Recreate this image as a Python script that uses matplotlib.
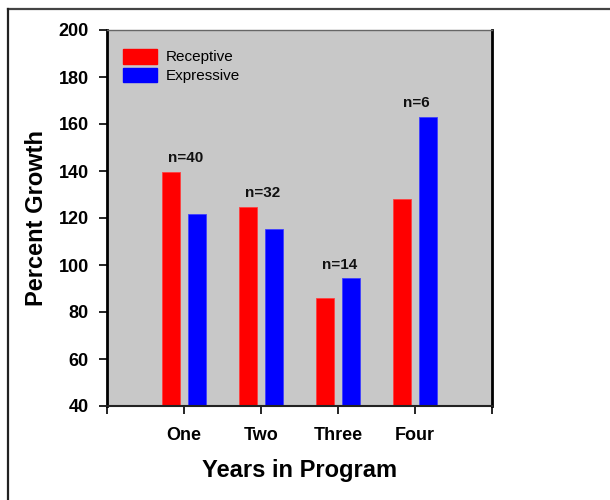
import matplotlib
matplotlib.use("Agg")
import matplotlib.pyplot as plt
from matplotlib.lines import Line2D
from matplotlib.patches import Patch

# Percent growth by years in program
categories = ["One", "Two", "Three", "Four"]
receptive = [139.6, 124.8, 86.0, 128.1]
expressive = [121.6, 115.2, 94.3, 162.9]
n_labels = ["n=40", "n=32", "n=14", "n=6"]
y_ticks = [40, 60, 80, 100, 120, 140, 160, 180, 200]

plt.rcParams["font.family"] = ["Liberation Sans", "DejaVu Sans"]

fig = plt.figure(figsize=(6.1, 5.0), dpi=100)
ax = fig.add_axes([0.1754, 0.188, 0.6311, 0.752])
ax.set_facecolor("#C8C8C8")

x = [i + 1 for i in range(len(categories))]
w = 0.23
off = 0.165
ax.bar([v - off for v in x], receptive, width=w, bottom=0, color="#FF0000",
       edgecolor="#FF4040", linewidth=0.6, zorder=2)
ax.bar([v + off for v in x], expressive, width=w, bottom=0, color="#0000FF",
       edgecolor="#4040FF", linewidth=0.6, zorder=2)

for xi, r, e, lab in zip(x, receptive, expressive, n_labels):
    ax.annotate(lab, xy=(xi + 0.02, max(r, e)), xytext=(0, 10),
                textcoords="offset points", ha="center", va="center",
                fontsize=11, fontweight="bold", color="#111111")

ax.set_xlim(0, 5)
ax.set_ylim(40, 200)
ax.set_yticks(y_ticks)
ax.set_yticklabels([str(t) for t in y_ticks], fontsize=13, fontweight="bold")
ax.set_xticks(range(0, 6))
ax.set_xticklabels([""] + categories + [""], fontsize=13, fontweight="bold")
ax.tick_params(axis="y", direction="out", length=6, width=1.2, pad=7)
ax.tick_params(axis="x", direction="out", length=6, width=1.2, pad=9)

for side in ("left", "right"):
    ax.spines[side].set_linewidth(2)
    ax.spines[side].set_color("black")
ax.spines["bottom"].set_linewidth(1.5)
ax.spines["bottom"].set_color("#222222")
ax.spines["top"].set_linewidth(1)
ax.spines["top"].set_color("#666666")

ax.set_xlabel("Years in Program", fontsize=17, fontweight="bold", labelpad=11)
ax.set_ylabel("Percent Growth", fontsize=17, fontweight="bold", labelpad=8)

handles = [Patch(facecolor="#FF0000", edgecolor="#FF0000"),
           Patch(facecolor="#0000FF", edgecolor="#0000FF")]
ax.legend(handles, ["Receptive", "Expressive"], loc="upper left",
          bbox_to_anchor=(0.015, 0.978), frameon=False, fontsize=11,
          handlelength=2.2, handleheight=1.1, handletextpad=0.6,
          labelspacing=0.2, borderaxespad=0.3)

# figure frame along top and left edges
fig.add_artist(Line2D([0.0139, 1.0], [0.982, 0.982], transform=fig.transFigure,
                      color="#444444", linewidth=1.6))
fig.add_artist(Line2D([0.0139, 0.0139], [0.0, 0.982], transform=fig.transFigure,
                      color="#222222", linewidth=1.6))

fig.savefig("out.png", dpi=100, facecolor="white")
